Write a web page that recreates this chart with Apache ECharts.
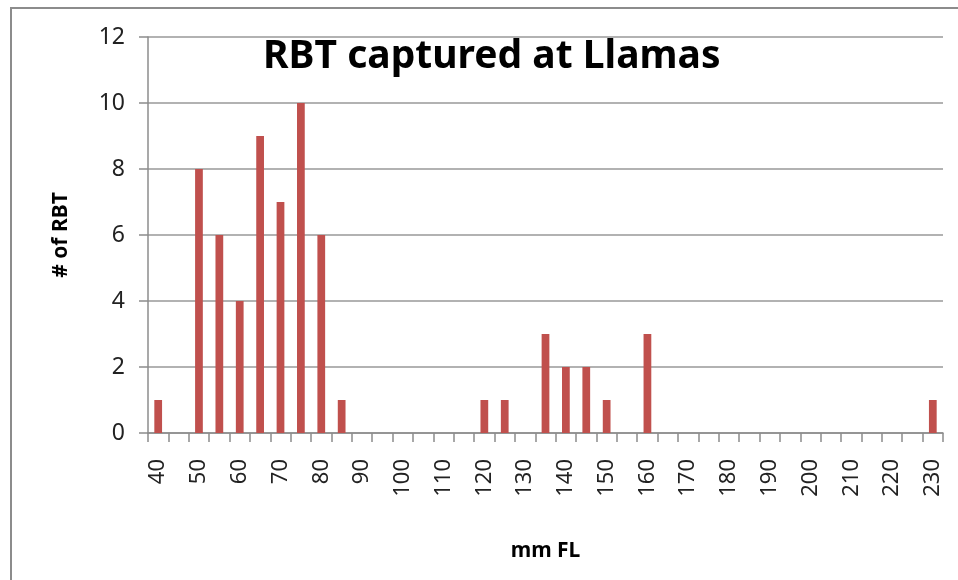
<!DOCTYPE html>
<html>
<head>
<meta charset="utf-8">
<script src="https://cdn.jsdelivr.net/npm/echarts@6/dist/echarts.min.js"></script>
<style>
  html, body { margin: 0; padding: 0; background: #fff; }
  #frame { position: absolute; left: 10px; top: 7px; width: 960px; height: 580px;
           border-left: 2px solid #8c8c8c; border-top: 2px solid #8c8c8c; }
  #chart { position: absolute; left: 0; top: 0; width: 958px; height: 580px; }
</style>
</head>
<body>
<div id="frame"></div>
<div id="chart"></div>
<script>
// fork length bins (mm), 5 mm steps
const lengths = [];
for (let v = 40; v <= 230; v += 5) lengths.push(String(v));

// number of RBT in each bin
const counts = [
  1, 0, 8, 6, 4, 9, 7, 10, 6, 1,   // 40 - 85
  0, 0, 0, 0, 0, 0, 1, 1, 0, 3,    // 90 - 135
  2, 2, 1, 0, 3, 0, 0, 0, 0, 0,    // 140 - 185
  0, 0, 0, 0, 0, 0, 0, 0, 1        // 190 - 230
];

const yTicks = { min: 0, max: 12, step: 2 };

const chart = echarts.init(document.getElementById('chart'));
const font = 'Noto Sans, sans-serif';

chart.setOption({
  animation: false,
  title: {
    text: 'RBT captured at Llamas',
    left: 258,
    top: 32,
    textStyle: { fontFamily: font, fontWeight: 'bold', fontSize: 39, color: '#000' }
  },
  grid: { left: 148, right: 15, top: 37, bottom: 147 },
  xAxis: {
    type: 'category',
    data: lengths,
    name: 'mm FL',
    nameLocation: 'middle',
    nameGap: 108,
    nameTextStyle: { fontFamily: font, fontWeight: 'bold', fontSize: 21, color: '#000' },
    axisLine: { lineStyle: { color: '#8c8c8c', width: 1.5 } },
    axisTick: { show: true, interval: 0, length: 9, lineStyle: { color: '#8c8c8c', width: 1.5 } },
    axisLabel: { interval: 1, rotate: 90, margin: 26, fontFamily: font, fontSize: 22, color: '#222' }
  },
  yAxis: {
    type: 'value',
    min: yTicks.min,
    max: yTicks.max,
    interval: yTicks.step,
    name: '# of RBT',
    nameLocation: 'middle',
    nameGap: 76,
    nameTextStyle: { fontFamily: font, fontWeight: 'bold', fontSize: 21, color: '#000' },
    axisLine: { show: true, lineStyle: { color: '#8c8c8c', width: 1.5 } },
    axisTick: { show: true, length: 9, lineStyle: { color: '#8c8c8c', width: 1.5 } },
    axisLabel: { margin: 23, fontFamily: font, fontSize: 23, color: '#222' },
    splitLine: { lineStyle: { color: '#999', width: 1.5 } }
  },
  series: [{
    type: 'bar',
    data: counts,
    barWidth: '38%',
    itemStyle: { color: '#C0504D' }
  }]
});
</script>
</body>
</html>
